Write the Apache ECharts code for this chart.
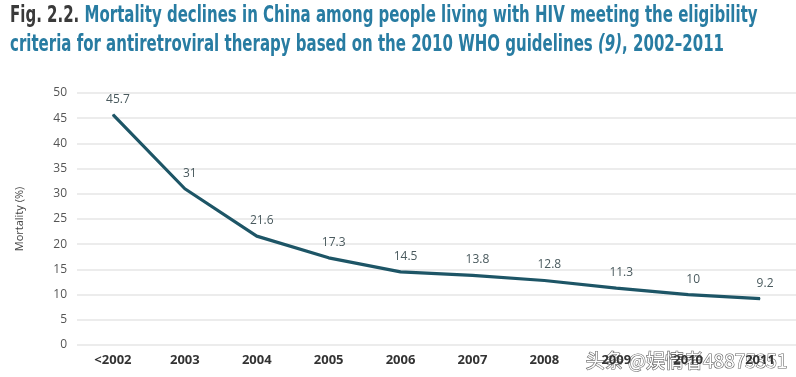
<!DOCTYPE html>
<html>
<head>
<meta charset="utf-8">
<script src="https://cdn.jsdelivr.net/npm/echarts@6/dist/echarts.min.js"></script>
<style>
    html, body { margin: 0; padding: 0; background: #fff; }
    #chart { width: 796px; height: 377px; }
</style>
</head>
<body>
<div id="chart"></div>
<script>
    // categories and mortality values
    var years = ['<2002', '2003', '2004', '2005', '2006', '2007', '2008', '2009', '2010', '2011'];
    var mortality = [45.7, 31, 21.6, 17.3, 14.5, 13.8, 12.8, 11.3, 10, 9.2];
    var yTicks = [0, 5, 10, 15, 20, 25, 30, 35, 40, 45, 50];

    var narrow = "'Liberation Sans Narrow', 'DejaVu Sans Condensed', 'Roboto', sans-serif";
    var titleRich = {
        a: { fontFamily: narrow, fontSize: 23, fontWeight: 'bold', fill: '#3a3a3a', lineHeight: 29 },
        b: { fontFamily: narrow, fontSize: 23, fontWeight: 'bold', fill: '#287ca2', lineHeight: 29 },
        i: { fontFamily: narrow, fontSize: 23, fontWeight: 'bold', fontStyle: 'italic', fill: '#287ca2', lineHeight: 29 }
    };

    var chart = echarts.init(document.getElementById('chart'));
    var option = {
        backgroundColor: '#fff',
        animation: false,
        grid: {
            left: 77,
            top: 93,
            width: 724,
            bottom: 32
        },
        xAxis: {
            type: 'category',
            data: years,
            boundaryGap: true,
            axisLine: { show: false },
            axisTick: { show: false },
            axisLabel: {
                color: '#333',
                fontWeight: 'bold',
                fontSize: 13,
                margin: 9,
                fontFamily: 'Open Sans, sans-serif'
            }
        },
        yAxis: {
            type: 'value',
            min: 0,
            max: 50,
            interval: 5,
            name: 'Mortality (%)',
            nameLocation: 'middle',
            nameRotate: 90,
            nameGap: 52,
            nameTextStyle: { color: '#444', fontSize: 11, fontFamily: 'Open Sans, sans-serif' },
            axisLine: { show: false },
            axisTick: { show: false },
            axisLabel: {
                color: '#555',
                fontSize: 12,
                margin: 10,
                fontFamily: 'Open Sans, sans-serif',
                formatter: function (v) { return yTicks.indexOf(v) >= 0 ? String(v) : ''; }
            },
            splitLine: { lineStyle: { color: '#e6e6e6', width: 1.5 } }
        },
        series: [{
            type: 'line',
            data: mortality,
            symbol: 'circle',
            symbolSize: 1,
            showSymbol: true,
            itemStyle: { color: '#1d5566' },
            lineStyle: { color: '#1d5566', width: 3.2 },
            label: {
                show: true,
                position: 'top',
                distance: 9,
                offset: [5, 0],
                color: '#4a5a5e',
                fontSize: 12,
                fontFamily: 'Open Sans, sans-serif'
            }
        }],
        graphic: [{
            type: 'text',
            left: 10,
            top: 5,
            scaleX: 0.725,
            style: {
                text: '{a|Fig. 2.2. }{b|Mortality declines in China among people living with HIV meeting the eligibility}\n{b|criteria for antiretroviral therapy based on the 2010 WHO guidelines }{i|(9)}{b|, 2002\u20132011}',
                rich: titleRich
            }
        }, {
            type: 'text',
            right: 8,
            bottom: 6,
            style: {
                text: '头条 @娱情者48875351',
                font: '19px "Noto Sans CJK SC"',
                fill: '#ffffff',
                stroke: '#666',
                lineWidth: 1.2
            }
        }]
    };
    chart.setOption(option);
    window.addEventListener('resize', function () {
        chart.resize();
    });
</script>
</body>
</html>
